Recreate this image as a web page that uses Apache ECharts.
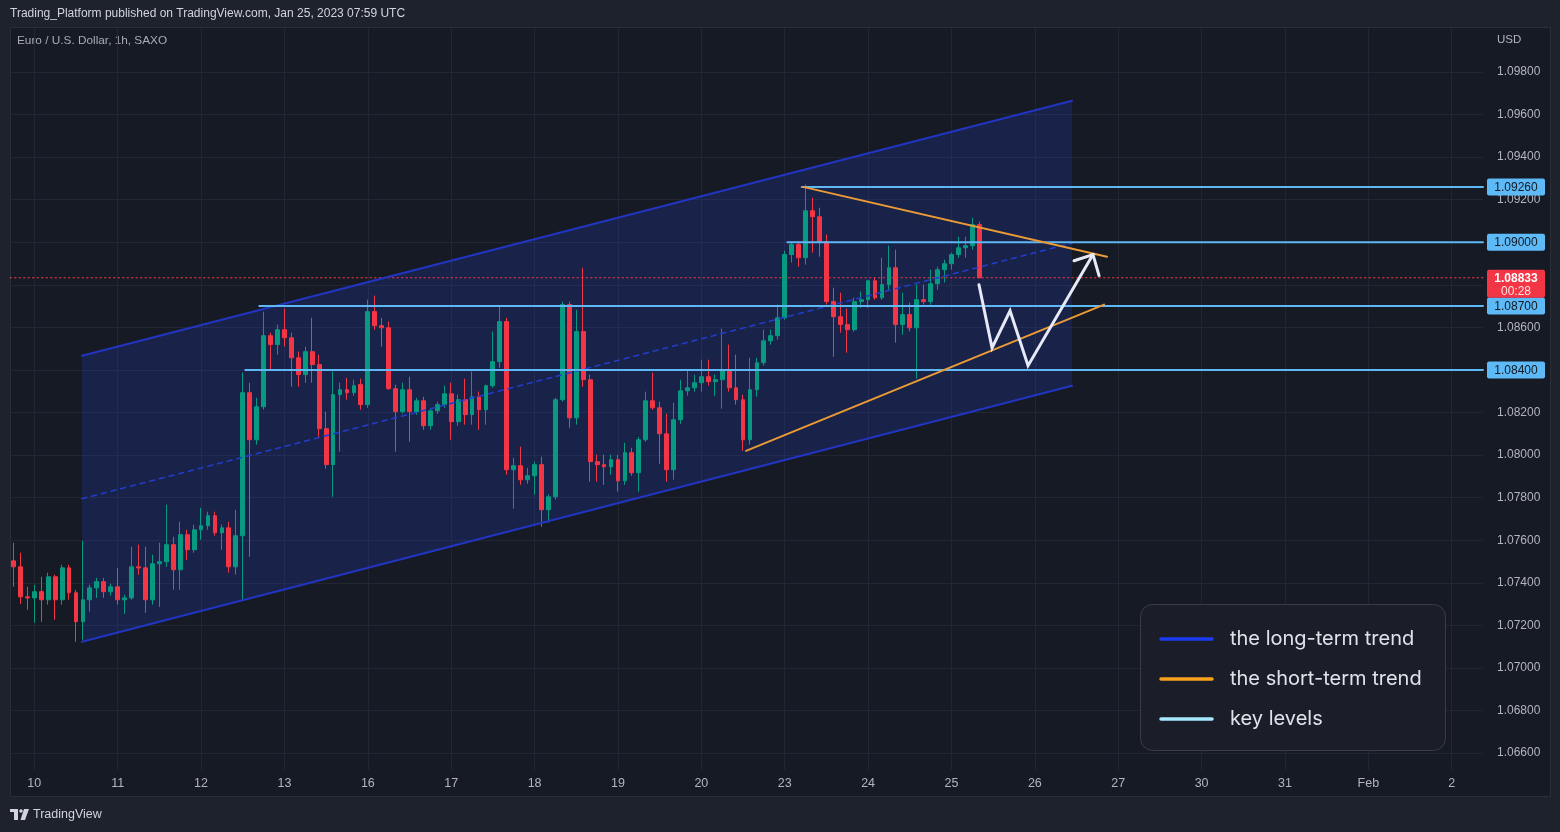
<!DOCTYPE html>
<html><head><meta charset="utf-8">
<script src="https://cdn.jsdelivr.net/npm/echarts@6/dist/echarts.min.js"></script>
<style>html,body{margin:0;padding:0;background:#1e222d;}#c{width:1560px;height:832px;}</style>
</head><body><div id="c"></div>
<script>
// ---- time axis ----
const dayLabels = ['10','11','12','13','16','17','18','19','20','23','24','25','26','27','30','31','Feb','2'];
const SLOTS_PER_DAY = 12;   // 2-hour bars
const FIRST_DAY_SLOT = 3;
const SLOT_COUNT = 212;

// ---- price axis ----
const priceMin = 1.064, priceMax = 1.100, priceStep = 0.002;

// ---- EUR/USD 2h bars ----
const opens = [1.07503,1.07475,1.07334,1.07329,1.07358,1.07320,1.07428,1.07320,1.07470,1.07353,
1.07217,1.07320,1.07376,1.07405,1.07358,1.07381,1.07320,1.07329,1.07475,1.07470,
1.07320,1.07489,1.07499,1.07579,1.07461,1.07626,1.07555,1.07649,1.07668,1.07715,
1.07635,1.07658,1.07475,1.07621,1.08293,1.08072,1.08227,1.08561,1.08519,1.08589,
1.08551,1.08457,1.08378,1.08486,1.08425,1.08124,1.07955,1.08284,1.08307,1.08293,
1.08331,1.08237,1.08674,1.08608,1.08598,1.08312,1.08204,1.08307,1.08204,1.08255,
1.08138,1.08208,1.08237,1.08288,1.08157,1.08260,1.08190,1.08274,1.08213,1.08326,
1.08439,1.08627,1.07931,1.07950,1.07884,1.07903,1.07955,1.07743,1.07804,1.08260,
1.08707,1.08175,1.08580,1.08354,1.07969,1.07955,1.07945,1.07978,1.07879,1.08011,
1.07917,1.08072,1.08255,1.08222,1.08100,1.07931,1.08166,1.08302,1.08316,1.08340,
1.08368,1.08345,1.08354,1.08401,1.08316,1.08260,1.08072,1.08307,1.08434,1.08537,
1.08561,1.08645,1.08942,1.08989,1.08927,1.09148,1.09120,1.09003,1.08721,1.08650,
1.08613,1.08589,1.08721,1.08730,1.08819,1.08739,1.08801,1.08880,1.08613,1.08660,
1.08598,1.08730,1.08721,1.08805,1.08871,1.08899,1.08942,1.08974,1.08984,1.09083];
const highs = [1.07588,1.07541,1.07381,1.07391,1.07428,1.07447,1.07438,1.07485,1.07485,1.07367,
1.07597,1.07391,1.07423,1.07423,1.07395,1.07470,1.07344,1.07569,1.07579,1.07569,
1.07532,1.07588,1.07767,1.07616,1.07687,1.07649,1.07673,1.07752,1.07734,1.07734,
1.07673,1.07687,1.07743,1.08387,1.08340,1.08269,1.08674,1.08575,1.08613,1.08688,
1.08575,1.08486,1.08509,1.08645,1.08472,1.08204,1.08392,1.08340,1.08363,1.08354,
1.08359,1.08730,1.08749,1.08645,1.08627,1.08331,1.08340,1.08368,1.08269,1.08274,
1.08222,1.08251,1.08326,1.08340,1.08284,1.08359,1.08392,1.08298,1.08331,1.08580,
1.08702,1.08645,1.07987,1.08039,1.07940,1.07969,1.07992,1.07815,1.08269,1.08721,
1.08721,1.08683,1.08880,1.08378,1.08002,1.08002,1.08002,1.08002,1.08058,1.08034,
1.08085,1.08298,1.08387,1.08251,1.08194,1.08246,1.08354,1.08401,1.08378,1.08448,
1.08448,1.08378,1.08594,1.08519,1.08472,1.08284,1.08457,1.08457,1.08589,1.08589,
1.08707,1.08960,1.08998,1.09003,1.09271,1.09209,1.09162,1.09036,1.08786,1.08763,
1.08688,1.08740,1.08768,1.08824,1.08833,1.08927,1.08984,1.08965,1.08763,1.08716,
1.08801,1.08801,1.08871,1.08885,1.08918,1.08951,1.09026,1.09026,1.09115,1.09097];
const lows = [1.07381,1.07301,1.07273,1.07212,1.07217,1.07297,1.07226,1.07297,1.07320,1.07123,
1.07132,1.07264,1.07329,1.07329,1.07339,1.07297,1.07254,1.07320,1.07438,1.07259,
1.07297,1.07287,1.07475,1.07367,1.07367,1.07508,1.07541,1.07602,1.07649,1.07621,
1.07555,1.07447,1.07438,1.07320,1.07522,1.08049,1.08213,1.08401,1.08472,1.08509,
1.08321,1.08321,1.08340,1.08340,1.08086,1.07936,1.07804,1.08016,1.08260,1.08279,
1.08213,1.08222,1.08589,1.08509,1.08307,1.08016,1.08194,1.08063,1.08190,1.08119,
1.08119,1.08194,1.08222,1.08072,1.08138,1.08143,1.08143,1.08119,1.08143,1.08316,
1.08410,1.07908,1.07748,1.07860,1.07865,1.07814,1.07663,1.07682,1.07790,1.08251,
1.08128,1.08143,1.08321,1.07875,1.07875,1.07860,1.07908,1.07828,1.07860,1.07903,
1.07828,1.08063,1.08213,1.07959,1.07875,1.07884,1.08147,1.08279,1.08298,1.08298,
1.08326,1.08279,1.08218,1.08298,1.08237,1.08020,1.08049,1.08274,1.08420,1.08519,
1.08542,1.08636,1.08904,1.08885,1.08895,1.08951,1.08932,1.08707,1.08462,1.08575,
1.08481,1.08580,1.08692,1.08692,1.08730,1.08730,1.08777,1.08528,1.08566,1.08580,
1.08359,1.08707,1.08707,1.08777,1.08810,1.08871,1.08927,1.08927,1.08965,1.08833];
const closes = [1.07475,1.07334,1.07329,1.07358,1.07320,1.07428,1.07320,1.07470,1.07353,1.07217,
1.07320,1.07376,1.07405,1.07358,1.07381,1.07320,1.07329,1.07475,1.07470,1.07320,
1.07489,1.07499,1.07579,1.07461,1.07626,1.07555,1.07649,1.07668,1.07715,1.07635,
1.07658,1.07475,1.07621,1.08293,1.08072,1.08227,1.08561,1.08519,1.08589,1.08551,
1.08457,1.08378,1.08486,1.08425,1.08124,1.07955,1.08284,1.08307,1.08293,1.08326,
1.08237,1.08674,1.08608,1.08598,1.08312,1.08204,1.08307,1.08204,1.08255,1.08138,
1.08208,1.08237,1.08288,1.08157,1.08260,1.08190,1.08274,1.08213,1.08326,1.08439,
1.08627,1.07931,1.07950,1.07884,1.07903,1.07955,1.07743,1.07804,1.08260,1.08707,
1.08175,1.08580,1.08354,1.07969,1.07955,1.07945,1.07978,1.07879,1.08011,1.07917,
1.08072,1.08255,1.08222,1.08100,1.07931,1.08166,1.08302,1.08316,1.08340,1.08368,
1.08345,1.08354,1.08401,1.08316,1.08260,1.08072,1.08307,1.08434,1.08537,1.08561,
1.08645,1.08942,1.08989,1.08927,1.09148,1.09120,1.09003,1.08721,1.08650,1.08613,
1.08589,1.08721,1.08730,1.08819,1.08739,1.08801,1.08880,1.08613,1.08660,1.08598,
1.08730,1.08721,1.08805,1.08871,1.08899,1.08942,1.08974,1.08984,1.09083,1.08833];

// ---- current price ----
const lastPrice = 1.08833;
const countdown = '00:28';

// ---- key levels (price, first bar slot) ----
const keyLevels = [1.0926, 1.0900, 1.0870, 1.0840];
const keyLevelStarts = [113.45, 111.38, 35.38, 33.37];

// ---- drawings: [slot, price] ----
const channelUpper = [[9.86, 1.08467], [152.35, 1.09665]];
const channelLower = [[9.86, 1.07123], [152.35, 1.08326]];
const channelMid   = [[9.86, 1.07795], [152.35, 1.08996]];
const shortUpper = [[113.63, 1.0926], [157.39, 1.08932]];
const shortLower = [[105.43, 1.0802], [156.96, 1.08707]];
const forecastPath = [[138.96, 1.0880], [140.84, 1.08504], [143.43, 1.08678], [146.02, 1.0842], [155.37, 1.08942]];
const arrowHead = [[152.64, 1.08913], [155.37, 1.08942], [156.24, 1.08843]];

// ---- legend ----
const legendNames = ['the long-term trend', 'the short-term trend', 'key levels'];
const legendColors = ['#1c3cf2', '#f7a11c', '#a6e9ff'];

// ---- texts ----
const headerText = 'Trading_Platform published on TradingView.com, Jan 25, 2023 07:59 UTC';
const symbolText = 'Euro / U.S. Dollar, 1h, SAXO';
const currencyText = 'USD';

const XMAX = SLOT_COUNT - 0.5;
const FONT = '"Liberation Sans", Arial, sans-serif';
const cats = Array.from({length: SLOT_COUNT}, (_, i) => 's' + i);
const labelAt = Array(SLOT_COUNT).fill('');
dayLabels.forEach((d, k) => { labelAt[FIRST_DAY_SLOT + k * SLOTS_PER_DAY] = d; });
const candles = opens.map((o, i) => [o, closes[i], lows[i], highs[i]]);

const chart = echarts.init(document.getElementById('c'), null, {renderer: 'canvas'});

function lineSeries(data, color, width, type, z) {
  return {type: 'line', xAxisIndex: 1, yAxisIndex: 0, data: data, symbol: 'none', silent: true,
    animation: false, z: z || 4, lineStyle: {color: color, width: width, type: type || 'solid', cap: 'round', join: 'miter'}};
}

const series = [];
// channel fill
series.push({type: 'custom', xAxisIndex: 1, yAxisIndex: 0, data: [[0, 1.08]], z: 1, silent: true,
  renderItem: function (params, api) {
    const pts = [channelUpper[0], channelUpper[1], channelLower[1], channelLower[0]].map(p => api.coord(p));
    return {type: 'polygon', shape: {points: pts}, style: {fill: 'rgba(41,80,255,0.17)'}};
  }});
series.push(lineSeries(channelUpper, '#2135c2', 2));
series.push(lineSeries(channelLower, '#2135c2', 2));
series.push(lineSeries(channelMid, '#213dcc', 1.5, [5, 5]));
// current price dotted line
series.push(lineSeries([[-0.5, lastPrice], [XMAX, lastPrice]], '#f23645', 1, [1.5, 3], 3));
// candles
series.push({type: 'candlestick', xAxisIndex: 0, yAxisIndex: 0, data: candles, barWidth: '62%', z: 3, silent: true,
  itemStyle: {color: '#089981', color0: '#f23645', borderColor: '#089981', borderColor0: '#f23645', borderWidth: 1}});
// key levels
keyLevels.forEach((lv, i) => series.push(lineSeries([[keyLevelStarts[i], lv], [XMAX, lv]], '#5db8f4', 2, 'solid', 5)));
// short-term trend
series.push(lineSeries(shortUpper, '#eb9b36', 2, 'solid', 6));
series.push(lineSeries(shortLower, '#eb9b36', 2, 'solid', 6));
// forecast path + arrow head
series.push(lineSeries(forecastPath, '#e6e9f7', 3, 'solid', 7));
series.push(lineSeries(arrowHead, '#e6e9f7', 3, 'solid', 7));
// price tags
series.push({type: 'custom', xAxisIndex: 1, yAxisIndex: 0, clip: false, z: 20, silent: true,
  data: keyLevels.map(v => [XMAX, v]),
  renderItem: function (params, api) {
    const p = api.coord([api.value(0), api.value(1)]);
    return {type: 'group', children: [
      {type: 'rect', shape: {x: p[0] + 4, y: p[1] - 8.5, width: 58, height: 17, r: 2}, style: {fill: '#5dbaf6'}},
      {type: 'text', x: p[0] + 33, y: p[1] + 0.5, style: {text: api.value(1).toFixed(5), fill: '#131722', font: '12px ' + FONT, align: 'center', verticalAlign: 'middle'}}
    ]};
  }});
series.push({type: 'custom', xAxisIndex: 1, yAxisIndex: 0, clip: false, z: 21, silent: true,
  data: [[XMAX, lastPrice]],
  renderItem: function (params, api) {
    const p = api.coord([api.value(0), api.value(1)]);
    return {type: 'group', children: [
      {type: 'rect', shape: {x: p[0] + 4, y: p[1] - 8, width: 58, height: 28, r: 2}, style: {fill: '#f23645'}},
      {type: 'text', x: p[0] + 33, y: p[1] + 0.5, style: {text: api.value(1).toFixed(5), fill: '#ffffff', font: 'bold 12px ' + FONT, align: 'center', verticalAlign: 'middle'}},
      {type: 'text', x: p[0] + 33, y: p[1] + 13.5, style: {text: countdown, fill: 'rgba(255,255,255,0.85)', font: '12px ' + FONT, align: 'center', verticalAlign: 'middle'}}
    ]};
  }});

const graphics = [
  {type: 'rect', z: -10, shape: {x: 10.5, y: 27.5, width: 1540, height: 769}, style: {fill: '#161a25', stroke: '#2a2e39', lineWidth: 1}},
  {type: 'text', x: 10, y: 14, style: {text: headerText, fill: '#d1d4dc', font: '12px ' + FONT, verticalAlign: 'middle'}},
  {type: 'text', x: 17, y: 41, style: {text: symbolText, fill: '#a9acb5', font: '11.8px ' + FONT, verticalAlign: 'middle'}},
  {type: 'text', x: 1497, y: 40, style: {text: currencyText, fill: '#b2b5be', font: '11.5px ' + FONT, verticalAlign: 'middle'}},
  // TradingView mark
  {type: 'rect', shape: {x: 10, y: 809, width: 8, height: 3}, style: {fill: '#d1d4dc'}},
  {type: 'rect', shape: {x: 14, y: 809, width: 4, height: 11}, style: {fill: '#d1d4dc'}},
  {type: 'circle', shape: {cx: 21, cy: 811, r: 1.8}, style: {fill: '#d1d4dc'}},
  {type: 'polygon', shape: {points: [[24, 809], [29, 809], [25, 820], [20.5, 820]]}, style: {fill: '#d1d4dc'}},
  {type: 'text', x: 33, y: 815, style: {text: 'TradingView', fill: '#d1d4dc', font: '12.5px ' + FONT, verticalAlign: 'middle'}},
  // legend box
  {type: 'rect', z: 50, shape: {x: 1140.5, y: 604.5, width: 305, height: 146, r: 12}, style: {fill: '#1b1e29', stroke: '#3a3d48', lineWidth: 1}}
];
legendNames.forEach((name, i) => {
  const y = 639 + i * 40;
  graphics.push({type: 'line', z: 51, shape: {x1: 1161, y1: y, x2: 1212, y2: y}, style: {stroke: legendColors[i], lineWidth: 3.5, lineCap: 'round'}});
  graphics.push({type: 'text', z: 51, x: 1230, y: y, style: {text: name, fill: '#e1e3e9', font: '20px Inter, "Noto Sans", sans-serif', verticalAlign: 'middle'}});
});

chart.setOption({
  animation: false,
  backgroundColor: '#1e222d',
  grid: [
    {left: 10, right: 77, top: 29.4, height: 766.2, containLabel: false},
    {left: 13.474, right: 80.474, top: 28, height: 742, containLabel: false}
  ],
  xAxis: [
    {type: 'category', gridIndex: 0, data: cats, boundaryGap: true,
      axisLine: {show: false}, axisTick: {show: false}, splitLine: {show: false},
      axisLabel: {interval: (i) => labelAt[i] !== '', formatter: (v, i) => labelAt[i], color: '#b2b5be', fontSize: 12.5, fontFamily: FONT, margin: -19}},
    {type: 'value', gridIndex: 0, min: -0.5, max: XMAX, show: false},
    {type: 'category', gridIndex: 1, data: cats, boundaryGap: false,
      axisLine: {show: false}, axisTick: {show: false}, axisLabel: {show: false},
      splitLine: {show: true, interval: (i) => labelAt[i] !== '', lineStyle: {color: '#222633', width: 1}}}
  ],
  yAxis: [
    {type: 'value', gridIndex: 0, position: 'right', min: priceMin, max: priceMax, interval: priceStep,
      axisLine: {show: false}, axisTick: {show: false},
      axisLabel: {margin: 14, color: '#b2b5be', fontSize: 12, fontFamily: FONT,
        formatter: (v) => (v < priceMin + priceStep / 2 || v > priceMax - priceStep / 2) ? '' : v.toFixed(5)},
      splitLine: {show: true, showMinLine: false, showMaxLine: false, lineStyle: {color: '#222633', width: 1}}},
    {type: 'value', gridIndex: 1, min: 0, max: 1, show: false}
  ],
  graphic: graphics,
  series: series
});
</script>
</body></html>
